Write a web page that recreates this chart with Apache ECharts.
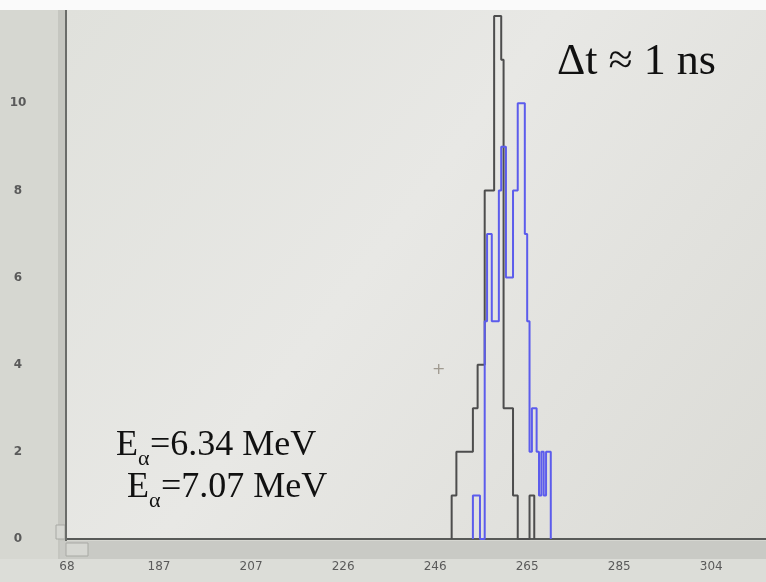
<!DOCTYPE html>
<html><head><meta charset="utf-8">
<script src="https://cdn.jsdelivr.net/npm/echarts@6/dist/echarts.min.js"></script>
<style>html,body{margin:0;padding:0;background:#fff}#c{width:766px;height:582px}</style>
</head><body><div id="c"></div>
<script>
// ---- data (channel units, half-channel bins) ----
const binWidth = 0.5;
const blackStart = 249.0;
const blackCounts = [1,1, 2,2,2,2,2,2,2, 3,3, 4,4,4, 8,8,8,8, 12,12,12, 11, 3,3,3,3, 1,1, 0,0,0,0,0, 1,1];
const blueStart = 253.5;
const blueCounts = [1,1,1, 0,0, 5,7,7,5,5,5, 8,9,9,6,6,6,8,8,10,10,10,7,5,2,3,3,2,1,2,1,2,2];
const xTickValues = [167.5,187,206.5,226,245.5,265,284.5,304];
const xTickLabels = ['68','187','207','226','246','265','285','304'];
const yTickValues = [0,2,4,6,8,10];
const yTickLabels = ['0','2','4','6','8','10'];
const annotation1 = ['E','α','=6.34 MeV'];
const annotation2 = ['E','α','=7.07 MeV'];
const annotationDt = 'Δt ≈ 1 ns';

function stepData(start, counts){
  const d=[[start,0]];
  counts.forEach((c,i)=>d.push([start+i*binWidth,c]));
  d.push([start+counts.length*binWidth,0]);
  return d;
}
const serif = '"Liberation Serif","Times New Roman",serif';
function eLine(parts, x, y){
  return [
    {type:'text', z:50, style:{text:parts[0], x:x, y:y, font:'36px '+serif, fill:'#111', verticalAlign:'bottom'}},
    {type:'text', z:50, style:{text:parts[1], x:x+22, y:y+6, font:'22px '+serif, fill:'#111', verticalAlign:'bottom'}},
    {type:'text', z:50, style:{text:parts[2], x:x+34, y:y, font:'36px '+serif, fill:'#111', verticalAlign:'bottom'}}
  ];
}
const chart = echarts.init(document.getElementById('c'));
chart.setOption({
  animation:false,
  backgroundColor:'#d6d7d1',
  grid:{left:67, right:0, top:10, bottom:43},
  xAxis:{type:'value', min:167.5, max:315.6,
    axisLine:{show:true, lineStyle:{color:'#585a58', width:2}},
    axisTick:{show:false},
    splitLine:{show:false},
    axisLabel:{customValues:xTickValues, margin:22, color:'#5a5a5a', fontSize:12, fontFamily:'DejaVu Sans',
      formatter:(v)=>{const i=xTickValues.findIndex(t=>Math.abs(t-v)<1e-6);return i>=0?xTickLabels[i]:'';}}
  },
  yAxis:{type:'value', min:0, max:12.14,
    axisLine:{show:false}, axisTick:{show:false}, splitLine:{show:false},
    axisLabel:{customValues:yTickValues, margin:49, align:'center', color:'#5a5a5a', fontSize:12, fontWeight:'bold', fontFamily:'DejaVu Sans',
      formatter:(v)=>{const i=yTickValues.indexOf(v);return i>=0?yTickLabels[i]:'';}}
  },
  graphic:{elements:[
    {type:'rect', z:-10, shape:{x:67,y:10,width:699,height:529}, style:{fill:new echarts.graphic.LinearGradient(0,0,1,1,[{offset:0,color:'#e0e1dc'},{offset:0.45,color:'#e8e8e5'},{offset:1,color:'#dbdbd6'}])}},
    {type:'rect', z:-10, shape:{x:0,y:0,width:766,height:10}, style:{fill:'#fafafa'}},
    {type:'rect', z:-9, shape:{x:58,y:10,width:9,height:549}, style:{fill:'#c5c6c0'}},
    {type:'rect', z:40, shape:{x:65,y:10,width:2,height:531}, style:{fill:'#6a6c69'}},
    {type:'rect', z:-9, shape:{x:60,y:541,width:706,height:18}, style:{fill:'#c9cac5'}},
    {type:'rect', z:-8, shape:{x:66,y:543,width:22,height:13}, style:{fill:'#d6d7d2', stroke:'#a8a9a4', lineWidth:1}},
    {type:'rect', z:-8, shape:{x:56,y:525,width:9,height:14}, style:{fill:'#d6d7d2', stroke:'#a8a9a4', lineWidth:1}},
    {type:'rect', z:-9, shape:{x:0,y:559,width:766,height:23}, style:{fill:'#dcddd8'}},
    {type:'text', z:50, style:{text:'+', x:432, y:362, font:'16px DejaVu Sans', fill:'#a09a90'}},
    {type:'text', z:50, style:{text:annotationDt, x:557, y:84, font:'44px '+serif, fill:'#111', verticalAlign:'bottom'}},
    ...eLine(annotation1, 116, 464),
    ...eLine(annotation2, 127, 506)
  ]},
  series:[
    {type:'line', step:'end', data:stepData(blackStart,blackCounts), symbol:'none', lineStyle:{color:'#4d4d4d', width:2}},
    {type:'line', step:'end', data:stepData(blueStart,blueCounts), symbol:'none', lineStyle:{color:'#5c5cec', width:2}}
  ]
});
</script></body></html>
